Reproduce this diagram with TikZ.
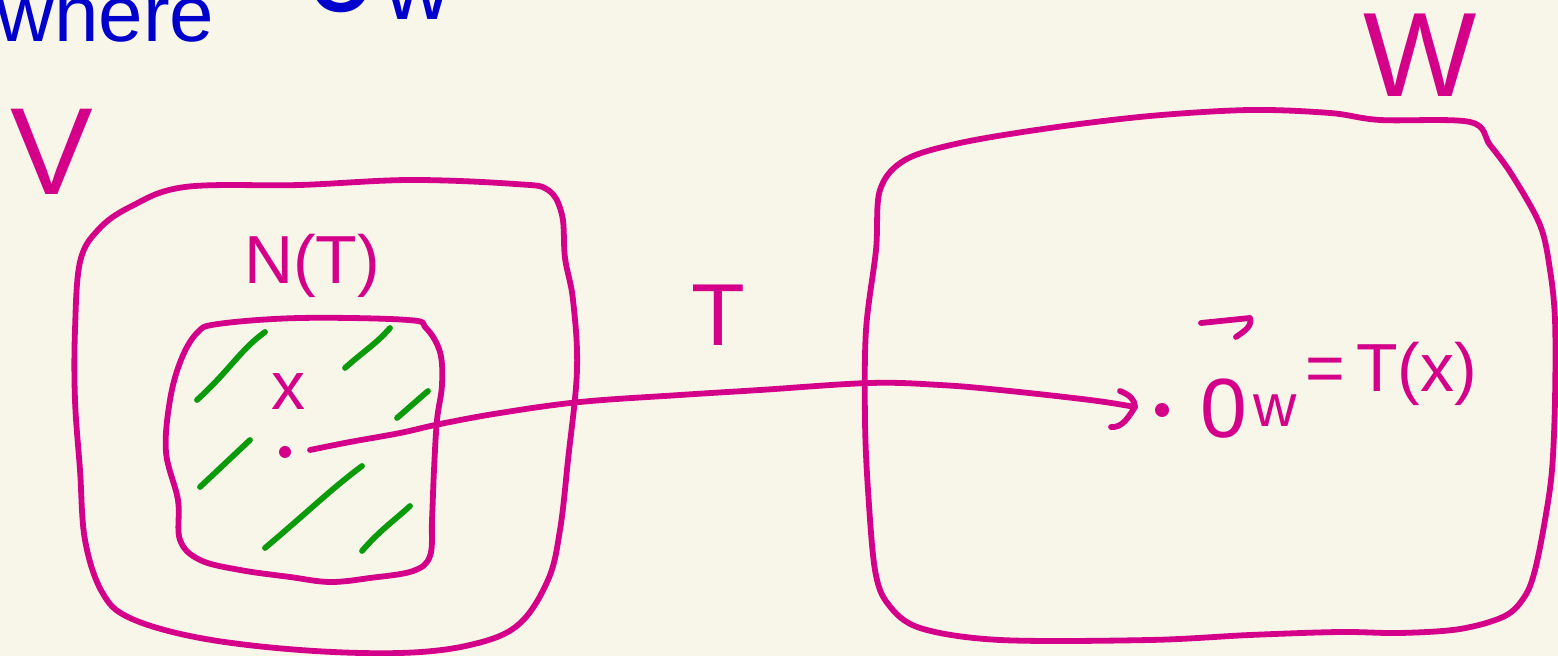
\documentclass[tikz,border=0pt]{standalone}
\usepackage{fontspec}
\setmainfont{Liberation Sans}
\usetikzlibrary{arrows.meta}
\definecolor{bg}{HTML}{F8F5E9}
\definecolor{ink}{HTML}{D4008A}
\definecolor{hatch}{HTML}{0A9A0A}
\definecolor{pen}{HTML}{0000CC}
\tikzset{
  stroke/.style={draw=ink, line width=2.9pt, line cap=round, line join=round},
  hatchline/.style={draw=hatch, line width=2.9pt, line cap=round},
  lbl/.style={text=ink, inner sep=0pt},
  bluetext/.style={text=pen, inner sep=0pt, anchor=base west},
}
\begin{document}
\begin{tikzpicture}[x=0.5pt,y=-0.5pt]
\fill[bg] (0,0) rectangle (1558,656);
\useasboundingbox (0,0) rectangle (1558,656);
\clip (0,0) rectangle (1558,656);
% blue text cut at top
\node[bluetext, font=\fontsize{40}{46}\selectfont] (where) at (-4,42) {where};
\node[bluetext, font=\fontsize{66}{72}\selectfont] (zb) at (304,12) {0};
\node[bluetext, font=\fontsize{46}{50}\selectfont] (wb) at (384,20) {w};
% V outer blob
\draw[stroke] plot[smooth cycle, tension=0.6] coordinates {(185,187) (300,185) (410,180) (515,184) (548,190) (562,215) (565,258) (573,300) (577,370) (568,460) (560,530) (548,580) (518,625) (470,645) (400,653) (300,650) (200,638) (130,618) (102,592) (85,540) (80,470) (75,400) (75,330) (80,262) (98,230) (130,207)};
% N(T) blob
\draw[stroke] plot[smooth cycle, tension=0.6] coordinates {(218,324) (300,318) (408,320) (426,328) (440,352) (442,385) (437,420) (434,470) (432,520) (430,556) (413,571) (370,578) (330,582) (290,577) (240,570) (200,560) (180,540) (178,500) (166,452) (170,400) (181,360) (197,333)};
% hatching
\draw[hatchline] (197,400) .. controls (230,370) and (240,350) .. (265,332);
\draw[hatchline] (345,368) .. controls (365,350) and (375,345) .. (390,328);
\draw[hatchline] (397,418) -- (428,391);
\draw[hatchline] (200,487) -- (250,440);
\draw[hatchline] (265,548) .. controls (310,510) and (330,490) .. (362,466);
\draw[hatchline] (362,551) .. controls (380,530) and (395,520) .. (410,506);
% W blob
\draw[stroke] plot[smooth cycle, tension=0.55] coordinates {(905,160) (960,143) (1050,128) (1150,116) (1250,110) (1330,113) (1380,120) (1470,122) (1490,145) (1512,175) (1540,225) (1550,270) (1555,320) (1555,400) (1552,470) (1545,520) (1535,570) (1525,596) (1505,616) (1460,629) (1400,633) (1340,632) (1250,635) (1150,640) (1000,640) (920,628) (888,604) (875,570) (868,490) (865,420) (866,330) (876,250) (880,190)};
% points
\coordinate (xdot) at (285,452);
\coordinate (zero) at (1135,407);
\fill[ink] (xdot) circle (6);
\fill[ink] (1162,410) circle (7);
% connector T
\draw[stroke] plot[smooth, tension=0.6] coordinates {(310,450) (350,442) (400,433) (440,424) (500,413) (580,402) (680,395) (760,390) (870,383) (940,385) (1000,390) (1090,400) (zero)};
\draw[stroke] (1120,391) .. controls (1130,395) and (1135,400) .. (zero) .. controls (1128,418) and (1122,428) .. (1111,427);
% labels
\node[lbl, font=\fontsize{62}{70}\selectfont] (V) at (52,152) {V};
\node[lbl, font=\fontsize{60}{70}\selectfont] (W) at (1420,55) {W};
\node[lbl, font=\fontsize{34}{40}\selectfont] (NT) at (312,266) {N(T)};
\node[lbl, font=\fontsize{44}{50}\selectfont] (T) at (718,315) {T};
\node[lbl, font=\fontsize{34}{40}\selectfont] (x) at (288,392) {x};
\node[lbl, anchor=base west, font=\fontsize{42}{50}\selectfont] (z0) at (1200,438) {0};
\node[lbl, anchor=base west, font=\fontsize{30}{36}\selectfont] (zw) at (1253,427) {w};
\node[lbl, anchor=base west, font=\fontsize{34}{40}\selectfont] (eq) at (1305,392) {=\,T(x)};
\draw[stroke] (1201,323) -- (1250,318) .. controls (1252,326) and (1246,330) .. (1236,337);
\end{tikzpicture}
\end{document}
